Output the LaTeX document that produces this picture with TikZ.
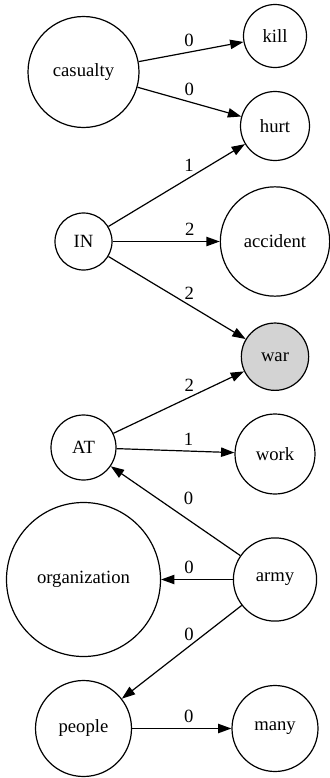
\documentclass[tikz,border=0pt]{standalone}
\usepackage{fontspec}
\setmainfont{Liberation Serif}
\usetikzlibrary{arrows.meta}

\definecolor{warGray}{HTML}{D3D3D3}

\def \leftX{83.5}
\def \rightX{275}

\begin{document}
\begin{tikzpicture}[x=0.75pt, y=-0.75pt,
  word/.style={circle, draw, line width=0.9pt, inner sep=0pt, font=\fontsize{14}{16}\selectfont},
  link/.style={-{Triangle[length=10pt,width=7pt]}, line width=0.9pt},
  weight/.style={above=3pt, inner sep=1pt, font=\fontsize{14}{16}\selectfont}]
\useasboundingbox (0,0) rectangle (329,778);

% ---- Nodes circles
% ---- left column
\node[word, minimum size=83.25pt] (casualty) at (\leftX, 72) {casualty};
\node[word, minimum size=42.75pt] (IN) at (\leftX, 241.5) {IN};
\node[word, minimum size=48.75pt] (AT) at (\leftX, 447.5) {AT};
\node[word, minimum size=115.5pt] (organization) at (\leftX, 579.5) {organization};
\node[word, minimum size=72pt] (people) at (\leftX, 728.5) {people};
% ---- right column
\node[word, minimum size=47.25pt] (kill) at (\rightX, 36) {kill};
\node[word, minimum size=51.75pt] (hurt) at (\rightX, 126) {hurt};
\node[word, minimum size=82pt] (accident) at (\rightX, 241.5) {accident};
\node[word, minimum size=50.5pt, fill=warGray] (war) at (\rightX, 356.7) {war};
\node[word, minimum size=60pt] (work) at (\rightX, 454) {work};
\node[word, minimum size=62.4pt] (army) at (\rightX, 579.5) {army};
\node[word, minimum size=64.5pt] (many) at (\rightX, 728.5) {many};

% ---- Links
\draw[link] (casualty) -- node[weight, pos=0.48] (wCasKill) {0} (kill);
\draw[link] (casualty) -- node[weight, pos=0.5] (wCasHurt) {0} (hurt);
\draw[link] (IN) -- node[weight, pos=0.59] (wInHurt) {1} (hurt);
\draw[link] (IN) -- node[weight, pos=0.72] (wInAcc) {2} (accident);
\draw[link] (IN) -- node[weight, pos=0.59] (wInWar) {2} (war);
\draw[link] (AT) -- node[weight, pos=0.58] (wAtWar) {2} (war);
\draw[link] (AT) -- node[weight, pos=0.61] (wAtWork) {1} (work);
\draw[link] (army) -- node[weight, pos=0.40, above=7pt] (wArmyAt) {0} (AT);
\draw[link] (army) -- node[weight, pos=0.61] (wArmyOrg) {0} (organization);
\draw[link] (army) -- node[weight, pos=0.44] (wArmyPeople) {0} (people);
\draw[link] (people) -- node[weight, pos=0.57] (wPeopleMany) {0} (many);
\end{tikzpicture}
\end{document}
